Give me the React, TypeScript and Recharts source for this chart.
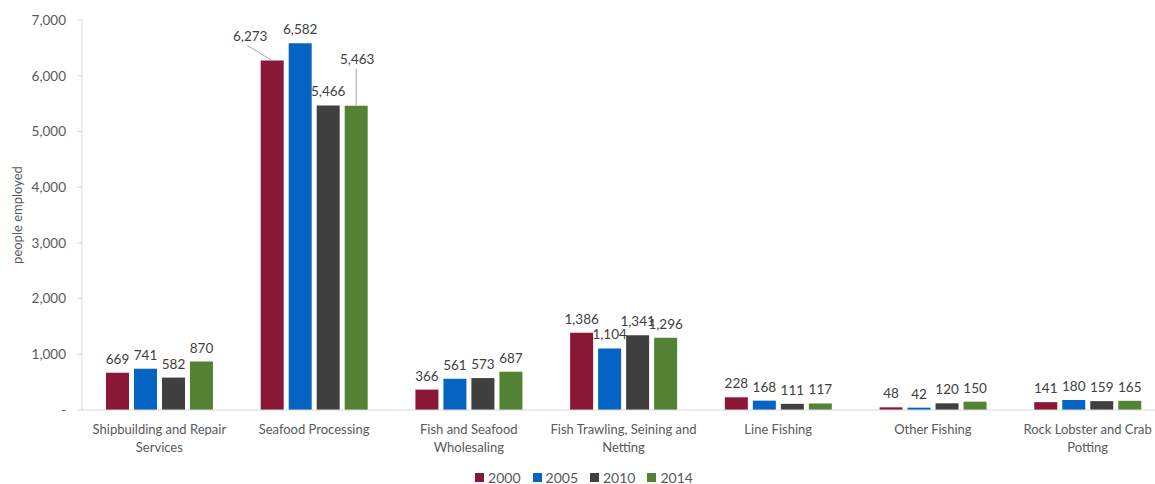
import React from 'react';
import { BarChart, Bar, XAxis, YAxis, Legend, LabelList } from 'recharts';

const categories = [
  'Shipbuilding and Repair Services',
  'Seafood Processing',
  'Fish and Seafood Wholesaling',
  'Fish Trawling, Seining and Netting',
  'Line Fishing',
  'Other Fishing',
  'Rock Lobster and Crab Potting',
];
const tickLabelLines = [
  ['Shipbuilding and Repair', 'Services'],
  ['Seafood Processing'],
  ['Fish and Seafood', 'Wholesaling'],
  ['Fish Trawling, Seining and', 'Netting'],
  ['Line Fishing'],
  ['Other Fishing'],
  ['Rock Lobster and Crab', 'Potting'],
];
const years = ['2000', '2005', '2010', '2014'];
const values2000 = [669, 6273, 366, 1386, 228, 48, 141];
const values2005 = [741, 6582, 561, 1104, 168, 42, 180];
const values2010 = [582, 5466, 573, 1341, 111, 120, 159];
const values2014 = [870, 5463, 687, 1296, 117, 150, 165];
const seriesValues = [values2000, values2005, values2010, values2014];
const colors = ['#8B1737', '#0563C1', '#404040', '#548235'];
const yTicks = [0, 1000, 2000, 3000, 4000, 5000, 6000, 7000];

const data = categories.map((name, i) => {
  const row: any = { name, idx: i };
  years.forEach((y, s) => {
    row['y' + y] = seriesValues[s][i];
  });
  return row;
});

const FONT = 'Lato, "Open Sans", sans-serif';

const fmt = (v: number) => (v === 0 ? '-' : v.toLocaleString('en-US'));

const makeLabel = (s: number) => (props: any) => {
  const { x, y, width, value, index } = props;
  const cx = Number(x) + Number(width) / 2;
  const top = Number(y);
  const txt = fmt(Number(value));
  if (index === 1 && s === 0) {
    return (
      <g>
        <line x1={cx - 25} y1={top - 15} x2={cx} y2={top} stroke="#A6A6A6" strokeWidth={1} />
        <text x={cx - 22} y={top - 20} textAnchor="middle" fontSize={13.5} fill="#404040" fontFamily={FONT}>
          {txt}
        </text>
      </g>
    );
  }
  if (index === 1 && s === 3) {
    return (
      <g>
        <line x1={cx} y1={top - 37} x2={cx} y2={top} stroke="#A6A6A6" strokeWidth={1} />
        <text x={cx + 1} y={top - 42} textAnchor="middle" fontSize={13.5} fill="#404040" fontFamily={FONT}>
          {txt}
        </text>
      </g>
    );
  }
  return (
    <text x={cx} y={top - 9} textAnchor="middle" fontSize={13.5} fill="#404040" fontFamily={FONT}>
      {txt}
    </text>
  );
};

const XTick = (props: any) => {
  const { x, y, payload } = props;
  const lines = tickLabelLines[payload.index] || [String(payload.value)];
  return (
    <text x={x} y={y} textAnchor="middle" fontSize={13} fill="#595959" fontFamily={FONT}>
      {lines.map((l, i) => (
        <tspan key={i} x={x} dy={i === 0 ? 16 : 18}>
          {l}
        </tspan>
      ))}
    </text>
  );
};

const LegendContent = () => (
  <div
    style={{
      width: 1168,
      height: 14,
      display: 'flex',
      justifyContent: 'center',
      alignItems: 'center',
      fontFamily: FONT,
      fontSize: 14,
      color: '#595959',
    }}
  >
    {years.map((y, i) => (
      <div key={y} style={{ display: 'flex', alignItems: 'center', marginRight: i < 3 ? 12 : 0 }}>
        <div style={{ width: 9, height: 9, background: colors[i], marginRight: 4 }} />
        <span>{y}</span>
      </div>
    ))}
  </div>
);

const YLabel = (props: any) => {
  const vb = props.viewBox || { x: 0, y: 20, width: 82, height: 390 };
  const cx = vb.x + 17;
  const cy = vb.y + vb.height / 2;
  return (
    <text
      x={cx}
      y={cy}
      transform={`rotate(-90 ${cx} ${cy})`}
      textAnchor="middle"
      dominantBaseline="central"
      fontSize={13}
      fill="#595959"
      fontFamily={FONT}
    >
      people employed
    </text>
  );
};

export default function App() {
  return (
    <div style={{ position: 'absolute', left: 0, top: 0, width: 1155, height: 484, overflow: 'hidden', background: '#fff' }}>
      <BarChart
        width={1170}
        height={484}
        data={data}
        margin={{ top: 20, right: 5, left: 0, bottom: 0 }}
        barCategoryGap="15.5%"
        barGap={5}
      >
        <XAxis
          dataKey="name"
          tick={<XTick />}
          tickLine={false}
          axisLine={{ stroke: '#D9D9D9' }}
          height={60}
          interval={0}
        />
        <YAxis
          width={82}
          domain={[0, 7000]}
          ticks={yTicks}
          tickFormatter={fmt}
          tick={{ fontSize: 13.5, fill: '#595959', fontFamily: FONT }}
          tickLine={{ stroke: '#D9D9D9' }}
          tickSize={5}
          tickMargin={11}
          axisLine={{ stroke: '#D9D9D9' }}
          label={<YLabel />}
        />
        <Legend verticalAlign="bottom" align="left" content={<LegendContent />} wrapperStyle={{ left: 0, width: 1168, height: 14 }} />
        {years.map((y, s) => (
          <Bar key={y} dataKey={'y' + y} name={y} fill={colors[s]} isAnimationActive={false}>
            <LabelList dataKey={'y' + y} content={makeLabel(s)} />
          </Bar>
        ))}
      </BarChart>
    </div>
  );
}
